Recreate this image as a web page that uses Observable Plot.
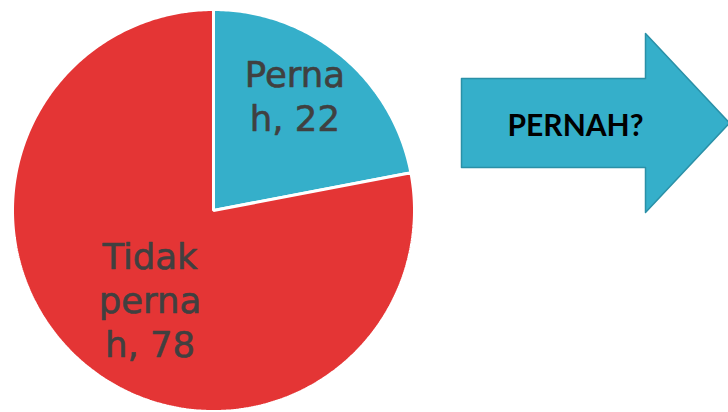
<!DOCTYPE html>
<html><head><meta charset="utf-8">
<script src="https://cdn.jsdelivr.net/npm/d3@7"></script>
<script src="https://cdn.jsdelivr.net/npm/@observablehq/plot@0.6"></script>
<style>html,body{margin:0;padding:0;background:#fff;overflow:hidden}</style>
</head><body><div id="chart"></div>
<script>
// ---- data ----
const categories = ["Pernah", "Tidak pernah"];
const values = [22, 78];
const colors = ["#35afca", "#e43535"];
const arrowLabel = "PERNAH?";

// ---- layout ----
const W = 728, H = 412;
const cx = 213, cy = 210, R = 201;
const labelRadius = {"Pernah": 0.69, "Tidak pernah": 0.55};
const labelShift = {"Pernah": [-7, -9], "Tidak pernah": [7, 3]};

const arcs = d3.pie().sort(null).value(d => d.value)(
  categories.map((c, i) => ({cat: c, value: values[i]}))
);

const slicePts = [];
arcs.forEach(a => {
  const n = Math.max(2, Math.ceil((a.endAngle - a.startAngle) * 80));
  slicePts.push({cat: a.data.cat, x: cx, y: cy});
  for (let k = 0; k <= n; k++) {
    const t = a.startAngle + (a.endAngle - a.startAngle) * k / n;
    slicePts.push({cat: a.data.cat, x: cx + R * Math.sin(t), y: cy - R * Math.cos(t)});
  }
});

function wrap(s, w) {
  const lines = []; let cur = "";
  for (const word of s.split(" ")) {
    let wd = word;
    const cand = cur ? cur + " " + wd : wd;
    if (cand.length <= w) { cur = cand; continue; }
    if (cur) { lines.push(cur); cur = ""; }
    while (wd.length > w) { lines.push(wd.slice(0, w)); wd = wd.slice(w); }
    cur = wd;
  }
  if (cur) lines.push(cur);
  return lines.join("\n");
}

const labels = arcs.map(a => {
  const m = (a.startAngle + a.endAngle) / 2;
  const r = R * labelRadius[a.data.cat];
  const [sx, sy] = labelShift[a.data.cat];
  return {
    x: cx + r * Math.sin(m) + sx,
    y: cy - r * Math.cos(m) + sy,
    text: wrap(`${a.data.cat}, ${a.data.value}`, 5)
  };
});

// arrow shape (layout)
const aL = 461, aHead = 645, aTip = 729, bTop = 78, bBot = 167, hTop = 33, hBot = 212;
const aMid = (bTop + bBot) / 2;
const arrowPts = [
  [aL, bTop], [aHead, bTop], [aHead, hTop], [aTip, aMid],
  [aHead, hBot], [aHead, bBot], [aL, bBot]
].map(([x, y]) => ({x, y}));
const arrowText = [{x: 575, y: aMid + 3, text: arrowLabel}];

const chart = Plot.plot({
  width: W, height: H,
  margin: 0,
  x: {domain: [0, W], range: [0, W], axis: null},
  y: {domain: [0, H], range: [0, H], axis: null},
  color: {domain: categories, range: colors},
  style: {background: "#fff"},
  marks: [
    Plot.line(slicePts, {x: "x", y: "y", z: "cat", fill: "cat", stroke: "#fff",
      strokeWidth: 3, strokeLinejoin: "miter", curve: "linear-closed"}),
    Plot.text(labels, {x: "x", y: "y", text: "text", fill: "#404040", stroke: "#404040",
      strokeWidth: 0.6, fontSize: 35.5, fontFamily: "DejaVu Sans", lineHeight: 1.24, lineAnchor: "middle"}),
    Plot.line(arrowPts, {x: "x", y: "y", fill: "#35afca", stroke: "#2a90a7",
      strokeWidth: 1.5, curve: "linear-closed"}),
    Plot.text(arrowText, {x: "x", y: "y", text: "text", fill: "#000",
      fontSize: 30, fontFamily: "Lato", fontWeight: "bold", lineAnchor: "middle"})
  ]
});
document.getElementById("chart").appendChild(chart);
</script>
</body></html>
